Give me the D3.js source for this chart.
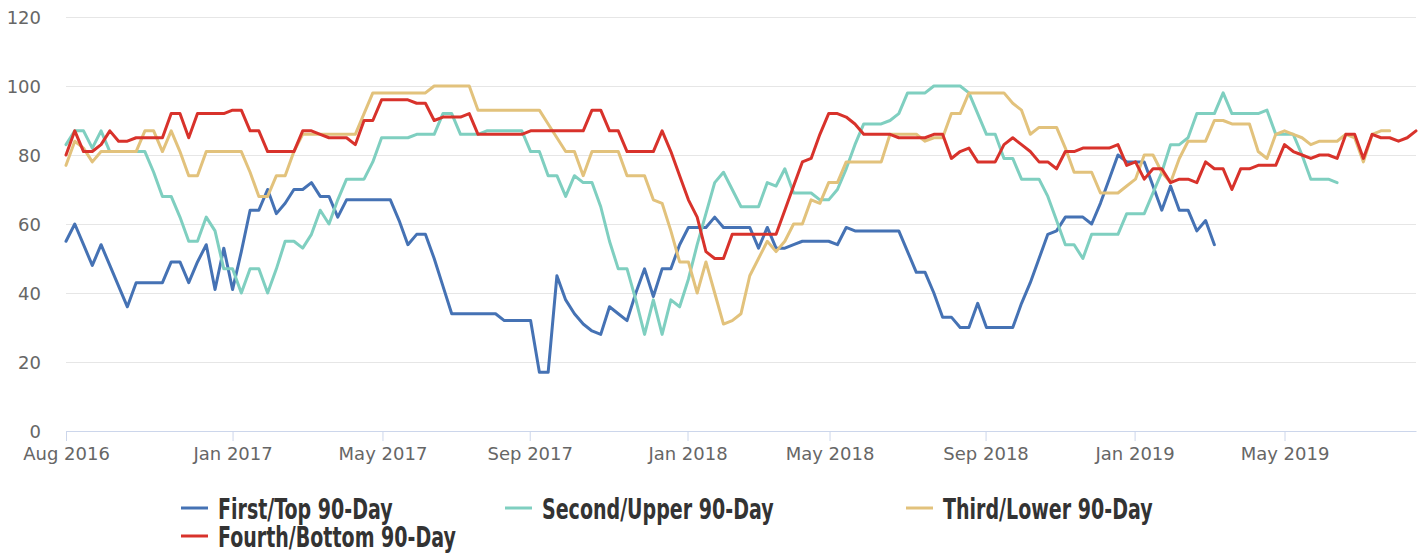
<!DOCTYPE html>
<html>
<head>
<meta charset="utf-8">
<script src="https://cdn.jsdelivr.net/npm/d3@7"></script>
<style>
  body { margin: 0; background: #fff; }
  svg { display: block; }
</style>
</head>
<body>
<svg id="chart"></svg>
<script>
// weekly readings, equally spaced points (ordinal time axis)
const firstTop = [
    55, 60, 54, 48, 54, 48, 42, 36, 43, 43,
    43, 43, 49, 49, 43, 49, 54, 41, 53, 41,
    52, 64, 64, 70, 63, 66, 70, 70, 72, 68,
    68, 62, 67, 67, 67, 67, 67, 67, 61, 54,
    57, 57, 50, 42, 34, 34, 34, 34, 34, 34,
    32, 32, 32, 32, 17, 17, 45, 38, 34, 31,
    29, 28, 36, 34, 32, 40, 47, 39, 47, 47,
    54, 59, 59, 59, 62, 59, 59, 59, 59, 53,
    59, 53, 53, 54, 55, 55, 55, 55, 54, 59,
    58, 58, 58, 58, 58, 58, 52, 46, 46, 40,
    33, 33, 30, 30, 37, 30, 30, 30, 30, 37,
    43, 50, 57, 58, 62, 62, 62, 60, 66, 73,
    80, 78, 78, 78, 71, 64, 71, 64, 64, 58,
    61, 54
];
const secondUpper = [
    83, 87, 87, 82, 87, 81, 81, 81, 81, 81,
    75, 68, 68, 62, 55, 55, 62, 58, 47, 47,
    40, 47, 47, 40, 47, 55, 55, 53, 57, 64,
    60, 67, 73, 73, 73, 78, 85, 85, 85, 85,
    86, 86, 86, 92, 92, 86, 86, 86, 87, 87,
    87, 87, 87, 81, 81, 74, 74, 68, 74, 72,
    72, 65, 55, 47, 47, 38, 28, 38, 28, 38,
    36, 44, 54, 63, 72, 75, 70, 65, 65, 65,
    72, 71, 76, 69, 69, 69, 67, 67, 70, 76,
    83, 89, 89, 89, 90, 92, 98, 98, 98, 100,
    100, 100, 100, 98, 92, 86, 86, 79, 79, 73,
    73, 73, 68, 61, 54, 54, 50, 57, 57, 57,
    57, 63, 63, 63, 69, 75, 83, 83, 85, 92,
    92, 92, 98, 92, 92, 92, 92, 93, 86, 86,
    86, 80, 73, 73, 73, 72
];
const thirdLower = [
    77, 84, 82, 78, 81, 81, 81, 81, 81, 87,
    87, 81, 87, 81, 74, 74, 81, 81, 81, 81,
    81, 75, 68, 68, 74, 74, 81, 86, 86, 86,
    86, 86, 86, 86, 92, 98, 98, 98, 98, 98,
    98, 98, 100, 100, 100, 100, 100, 93, 93, 93,
    93, 93, 93, 93, 93, 89, 85, 81, 81, 74,
    81, 81, 81, 81, 74, 74, 74, 67, 66, 58,
    49, 49, 40, 49, 40, 31, 32, 34, 45, 50,
    55, 52, 55, 60, 60, 67, 66, 72, 72, 78,
    78, 78, 78, 78, 86, 86, 86, 86, 84, 85,
    85, 92, 92, 98, 98, 98, 98, 98, 95, 93,
    86, 88, 88, 88, 82, 75, 75, 75, 69, 69,
    69, 71, 73, 80, 80, 75, 72, 79, 84, 84,
    84, 90, 90, 89, 89, 89, 81, 79, 86, 87,
    86, 85, 83, 84, 84, 84, 86, 85, 78, 86,
    87, 87
];
const fourthBottom = [
    80, 87, 81, 81, 83, 87, 84, 84, 85, 85,
    85, 85, 92, 92, 85, 92, 92, 92, 92, 93,
    93, 87, 87, 81, 81, 81, 81, 87, 87, 86,
    85, 85, 85, 83, 90, 90, 96, 96, 96, 96,
    95, 95, 90, 91, 91, 91, 92, 86, 86, 86,
    86, 86, 86, 87, 87, 87, 87, 87, 87, 87,
    93, 93, 87, 87, 81, 81, 81, 81, 87, 81,
    74, 67, 62, 52, 50, 50, 57, 57, 57, 57,
    57, 57, 64, 71, 78, 79, 86, 92, 92, 91,
    89, 86, 86, 86, 86, 85, 85, 85, 85, 86,
    86, 79, 81, 82, 78, 78, 78, 83, 85, 83,
    81, 78, 78, 76, 81, 81, 82, 82, 82, 82,
    83, 77, 78, 73, 76, 76, 72, 73, 73, 72,
    78, 76, 76, 70, 76, 76, 77, 77, 77, 83,
    81, 80, 79, 80, 80, 79, 86, 86, 79, 86,
    85, 85, 84, 85, 87
];

const seriesNames = ["First/Top 90-Day", "Second/Upper 90-Day", "Third/Lower 90-Day", "Fourth/Bottom 90-Day"];
const seriesColors = ["#4572b4", "#7fcfc0", "#e2c27c", "#d8322b"];
const seriesValues = [firstTop, secondUpper, thirdLower, fourthBottom];

// x ticks sit between points on the ordinal axis
const tickIndex = [0, 19, 36.1, 52.9, 70.9, 87.1, 104.9, 121.9, 139];
const tickLabels = ["Aug 2016", "Jan 2017", "May 2017", "Sep 2017", "Jan 2018", "May 2018", "Sep 2018", "Jan 2019", "May 2019"];
const yTicks = [0, 20, 40, 60, 80, 100, 120];
const pointCount = 155;

const width = 1424, height = 553;
const plot = { left: 66, right: 1416, top: 17, bottom: 431 };

const svg = d3.select("#chart")
    .attr("width", width)
    .attr("height", height);

const x = d3.scaleLinear().domain([0, pointCount - 1]).range([plot.left, plot.right]);
const y = d3.scaleLinear().domain([0, 120]).range([plot.bottom, plot.top]);

// grid + y labels
const yAxis = svg.append("g")
    .attr("transform", `translate(${plot.left},0)`)
    .call(d3.axisLeft(y)
        .tickValues(yTicks)
        .tickSize(-(plot.right - plot.left))
        .tickPadding(25)
        .tickFormat(d3.format("d")));
yAxis.select(".domain").remove();
yAxis.selectAll(".tick line").attr("stroke", "#e6e6e6").attr("stroke-width", 1);
yAxis.selectAll(".tick text")
    .attr("fill", "#666")
    .attr("font-family", "DejaVu Sans, sans-serif")
    .attr("font-size", "18px")
    .attr("dy", "0.36em");

// x axis
const xAxis = svg.append("g")
    .attr("transform", `translate(0,${plot.bottom})`)
    .call(d3.axisBottom(x)
        .tickValues(tickIndex)
        .tickSize(10)
        .tickSizeOuter(0)
        .tickPadding(6)
        .tickFormat((d, i) => tickLabels[i]));
xAxis.select(".domain").attr("stroke", "#ccd6eb");
xAxis.selectAll(".tick line").attr("stroke", "#ccd6eb");
xAxis.selectAll(".tick text")
    .attr("fill", "#666")
    .attr("font-family", "DejaVu Sans, sans-serif")
    .attr("font-size", "18px");

// lines
const line = d3.line()
    .x((d, i) => x(i))
    .y(d => y(d));

svg.append("g")
    .selectAll("path")
    .data(seriesValues)
    .enter()
    .append("path")
    .attr("d", d => line(d))
    .attr("fill", "none")
    .attr("stroke", (d, i) => seriesColors[i])
    .attr("stroke-width", 3)
    .attr("stroke-linejoin", "round")
    .attr("stroke-linecap", "round");

// legend, 3 per row, columns like the original
const legendColX = [181, 505, 906], legendRowY = [508, 536];
const legend = svg.append("g")
    .selectAll("g")
    .data(seriesNames)
    .enter()
    .append("g")
    .attr("transform", (d, i) => `translate(${legendColX[i % 3]},${legendRowY[Math.floor(i / 3)]})`);

legend.append("line")
    .attr("x1", 0)
    .attr("x2", 27)
    .attr("stroke", (d, i) => seriesColors[i])
    .attr("stroke-width", 3);

// no narrow font installed: squeeze a bold face sideways
legend.append("text")
    .attr("transform", "translate(37,10.5) scale(0.73,1)")
    .attr("fill", "#333")
    .attr("font-family", "'Liberation Sans Narrow', 'DejaVu Sans Condensed', sans-serif")
    .attr("font-weight", "bold")
    .attr("font-size", "29px")
    .text(d => d);
</script>
</body>
</html>
